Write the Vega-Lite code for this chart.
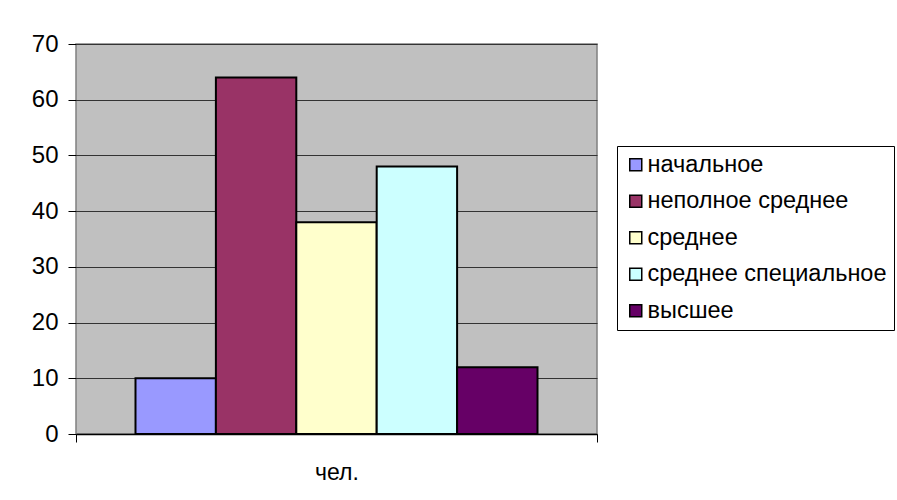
{
  "$schema": "https://vega.github.io/schema/vega-lite/v6.json",
  "width": 521,
  "height": 390,
  "autosize": {"type": "none"},
  "padding": {"left": 76, "top": 44, "right": 300, "bottom": 66},
  "background": "#ffffff",
  "data": {
    "values": [
      {"cat": "чел.", "level": "начальное", "value": 10},
      {"cat": "чел.", "level": "неполное среднее", "value": 64},
      {"cat": "чел.", "level": "среднее", "value": 38},
      {"cat": "чел.", "level": "среднее специальное", "value": 48},
      {"cat": "чел.", "level": "высшее", "value": 12}
    ]
  },
  "mark": {"type": "bar", "stroke": "#000000", "strokeWidth": 2},
  "encoding": {
    "x": {
      "field": "cat",
      "type": "nominal",
      "scale": {"paddingInner": 0, "paddingOuter": 0},
      "axis": {
        "title": null,
        "labelAngle": 0,
        "tickBand": "extent",
        "tickSize": 8,
        "tickColor": "#000000",
        "domainColor": "#000000",
        "domainWidth": 1.5,
        "labelFontSize": 23,
        "labelPadding": 19,
        "labelColor": "#000000",
        "labelFont": "Liberation Sans"
      }
    },
    "xOffset": {
      "field": "level",
      "type": "nominal",
      "sort": ["начальное", "неполное среднее", "среднее", "среднее специальное", "высшее"],
      "scale": {"paddingInner": 0, "paddingOuter": 0.74}
    },
    "y": {
      "field": "value",
      "type": "quantitative",
      "scale": {"domain": [0, 70], "nice": false},
      "axis": {
        "title": null,
        "values": [0, 10, 20, 30, 40, 50, 60, 70],
        "domain": false,
        "tickSize": 8,
        "tickColor": "#000000",
        "gridColor": "#333333",
        "gridWidth": 1.2,
        "labelFontSize": 24,
        "labelPadding": 10,
        "labelColor": "#000000",
        "labelFont": "Liberation Sans"
      }
    },
    "color": {
      "field": "level",
      "type": "nominal",
      "scale": {
        "domain": ["начальное", "неполное среднее", "среднее", "среднее специальное", "высшее"],
        "range": ["#9999ff", "#993366", "#ffffcc", "#ccffff", "#660066"]
      },
      "legend": {
        "title": null,
        "orient": "none",
        "legendX": 541,
        "legendY": 102,
        "symbolType": "square",
        "symbolSize": 144,
        "symbolStrokeColor": "#000000",
        "symbolStrokeWidth": 1.5,
        "labelFontSize": 23.5,
        "labelFont": "Liberation Sans",
        "labelColor": "#000000",
        "labelOffset": 0,
        "labelLimit": 400,
        "rowPadding": 11.5,
        "padding": 7,
        "fillColor": "#ffffff",
        "strokeColor": "#000000"
      }
    }
  },
  "config": {
    "view": {"fill": "#c0c0c0", "stroke": "#808080", "strokeWidth": 1.5}
  }
}
